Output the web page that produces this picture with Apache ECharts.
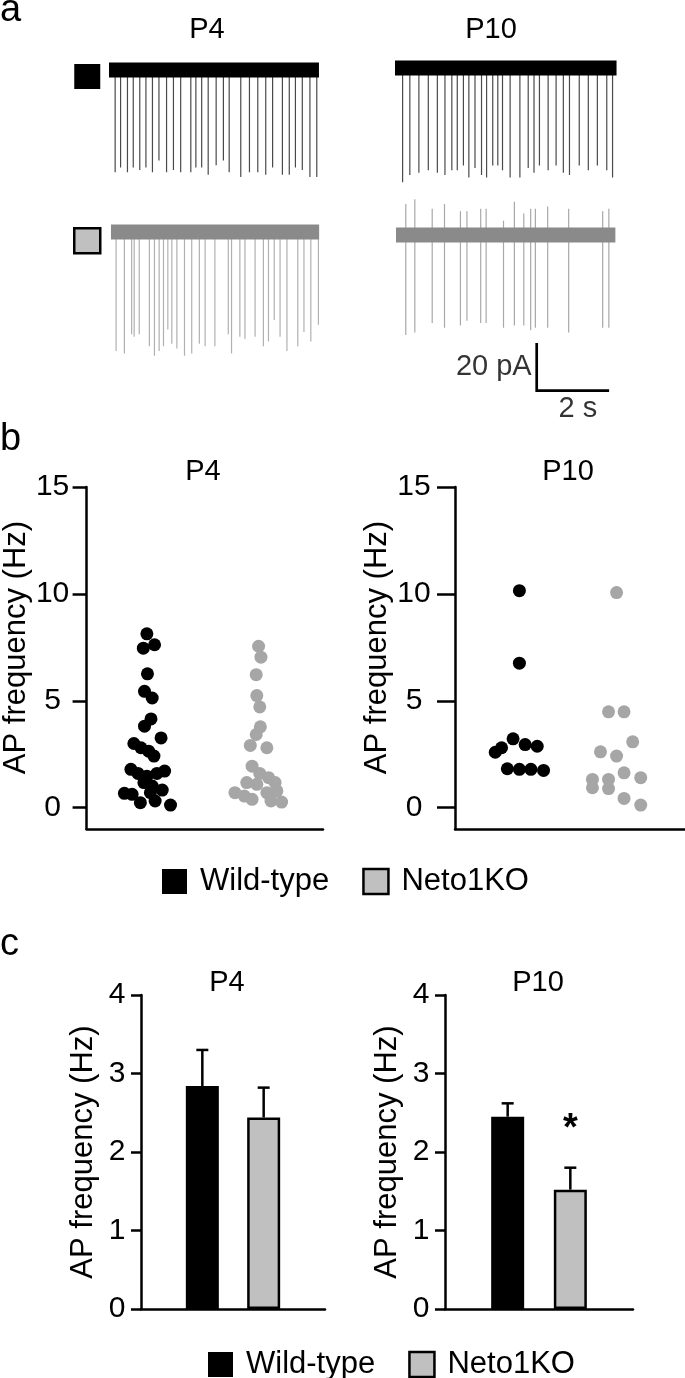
<!DOCTYPE html>
<html><head><meta charset="utf-8">
<script src="https://cdn.jsdelivr.net/npm/echarts@6/dist/echarts.min.js"></script>
<style>html,body{margin:0;padding:0;background:#fff}#chart{width:685px;height:1378px}</style>
</head><body><div id="chart"></div>
<script>
// ---------- DATA ----------
// Panel a: spike times (s) and amplitudes (pA)
const aP4WtTime = [0.17,0.32,0.51,0.67,0.85,1.02,1.20,1.38,1.59,1.78,1.98,2.26,2.40,2.56,2.74,2.96,3.16,3.32,3.64,3.88,4.11,4.33,4.52,4.79,4.98,5.15,5.34,5.55,5.74];
const aP4WtDown = [43,41,43,41,42,41,43,38,43,42,43,43,41,41,44,40,38,43,45,43,43,44,41,44,44,41,42,45,45];
const aP4KoTime = [0.14,0.37,0.57,0.64,0.78,1.06,1.20,1.33,1.45,1.57,1.68,1.82,2.03,2.23,2.44,2.60,2.87,3.24,3.33,3.56,3.70,3.98,4.21,4.35,4.51,4.67,4.86,5.16,5.33,5.52,5.73];
const aP4KoDown = [50,51,43,44,43,48,52,50,48,41,47,49,52,51,47,48,48,43,51,44,45,44,48,46,37,44,50,48,42,46,39];
const aP10WtTime = [0.21,0.41,0.66,0.92,1.17,1.38,1.57,1.72,1.89,2.04,2.21,2.39,2.53,2.70,2.84,2.97,3.18,3.45,3.68,3.84,3.99,4.23,4.45,4.65,4.82,5.09,5.34,5.59,5.85,6.01];
const aP10WtDown = [48,45,44,43,44,45,43,43,41,46,42,45,46,41,41,43,46,46,42,44,41,43,41,44,45,41,43,41,43,46];
const aP10KoTime = [0.27,0.52,1.00,1.34,1.78,1.96,2.34,2.49,2.97,3.27,3.53,3.72,3.85,4.19,4.77,5.71,5.88];
const aP10KoDown = [42,41,37,39,38,36,37,37,39,38,38,40,39,39,41,39,39];
const aP10KoUp   = [13,15,11,13,10,10,11,11,6,14,9,11,11,12,11,10,11];
const aDur = [5.8, 5.75, 6.12, 6.06];           // trace durations (s)
const scaleBar = {pA: 20, s: 2};

// Panel b: individual cells (x = jitter position, y = AP frequency Hz)
const bP4WtX = [1.02,0.96,1.15,1.03,0.98,1.11,1.09,0.98,1.26,0.80,0.92,1.05,1.14,0.75,0.87,1.02,1.32,1.19,0.97,1.11,0.64,0.77,1.28,0.91,1.16,1.42,1.08];
const bP4WtY = [8.13,7.46,7.62,6.26,5.44,5.13,4.15,3.81,3.26,3.00,2.80,2.64,2.41,1.79,1.60,1.47,1.71,1.60,1.17,1.01,0.67,0.62,0.82,0.23,0.31,0.12,0.70];
const bP4KoX = [2.91,2.95,2.87,2.88,2.93,2.94,2.87,2.77,3.05,2.80,2.93,3.08,2.71,2.88,3.19,2.51,2.67,2.80,3.05,3.22,3.12,3.30];
const bP4KoY = [7.55,7.04,6.22,5.24,4.71,3.78,3.42,2.91,2.80,1.94,1.60,1.40,1.17,1.09,1.17,0.70,0.54,0.39,0.70,0.78,0.31,0.26];
const bP10WtX = [1.12,1.12,1.01,0.81,0.70,1.22,1.43,0.91,1.12,1.32,1.54];
const bP10WtY = [10.15,6.76,3.22,2.80,2.59,2.95,2.87,1.82,1.79,1.79,1.74];
const bP10KoX = [2.81,2.67,2.94,3.09,2.53,2.81,2.94,3.23,2.39,2.67,2.39,2.67,2.94,3.23];
const bP10KoY = [10.06,4.48,4.48,3.08,2.61,2.41,1.63,1.40,1.32,1.32,0.93,0.89,0.43,0.12];
const bTicks = [0, 5, 10, 15];

// Panel c: mean +/- SEM
const groups = ['Wild-type', 'Neto1KO'];
const cP4Mean = [2.84, 2.44];
const cP4Sem  = [0.46, 0.38];
const cP10Mean = [2.45, 1.52];
const cP10Sem  = [0.17, 0.28];
const cP10Sig  = ['', '*'];
const cP4Sig   = ['', ''];
const cTicks = [0, 1, 2, 3, 4];

// ---------- STYLE / LAYOUT ----------
const FONT = "'Liberation Sans', Arial, Helvetica, sans-serif";
const BLACK = '#000', LIGHT = '#c0c0c0', DOT_GRAY = '#a6a6a6';
const PX_PER_S = 36.2, PX_PER_PA = 2.38;
const traceLayout = [
  {left:109, base:70,  yMax:15, yMin:-50, band:'#000',    spike:'#4a4a4a'},
  {left:111, base:232, yMax:15, yMin:-55, band:'#8a8a8a', spike:'#b0b0b0'},
  {left:395, base:68,  yMax:15, yMin:-50, band:'#000',    spike:'#4a4a4a'},
  {left:396, base:235, yMax:20, yMin:-50, band:'#8a8a8a', spike:'#a8a8a8'}
];
const traceData = [
  [aP4WtTime, aP4WtDown, null],
  [aP4KoTime, aP4KoDown, null],
  [aP10WtTime, aP10WtDown, null],
  [aP10KoTime, aP10KoDown, aP10KoUp]
];

function spikePath(times, downs, ups) {
  const pts = [[0, 0]];
  times.forEach((t, i) => {
    pts.push([t, 0]);
    if (ups) pts.push([t, ups[i]]);
    pts.push([t, -downs[i]]);
    pts.push([t, 0]);
  });
  return pts;
}
const zip = (xs, ys) => xs.map((x, i) => [x, ys[i]]);

const grid = [], xAxis = [], yAxis = [], series = [];

// Panel a traces
traceLayout.forEach((L, i) => {
  grid.push({left: L.left, top: L.base - L.yMax * PX_PER_PA, width: aDur[i] * PX_PER_S, height: (L.yMax - L.yMin) * PX_PER_PA});
  xAxis.push({type:'value', gridIndex:i, min:0, max:aDur[i], show:false});
  yAxis.push({type:'value', gridIndex:i, min:L.yMin, max:L.yMax, show:false});
  const [t, d, u] = traceData[i];
  series.push({type:'line', xAxisIndex:i, yAxisIndex:i, data: spikePath(t, d, u), symbol:'none', clip:false,
    lineStyle:{color:L.spike, width:1.2}, z:2, silent:true});
  series.push({type:'line', xAxisIndex:i, yAxisIndex:i, data: [[0,0],[aDur[i],0]], symbol:'none', clip:false,
    lineStyle:{color:L.band, width:15, cap:'butt'}, z:3, silent:true});
});

// Scale bar (grid 4)
grid.push({left:536.7, top:343, width: scaleBar.s * PX_PER_S, height: scaleBar.pA * PX_PER_PA});
xAxis.push({type:'value', gridIndex:4, min:0, max:scaleBar.s, show:false});
yAxis.push({type:'value', gridIndex:4, min:0, max:scaleBar.pA, show:false});
series.push({type:'line', xAxisIndex:4, yAxisIndex:4, symbol:'none', clip:false,
  data:[[0, scaleBar.pA],[0,0],[scaleBar.s,0]], lineStyle:{color:BLACK, width:2.7, join:'miter'}, silent:true});
series.push({type:'scatter', xAxisIndex:4, yAxisIndex:4, symbolSize:0, silent:true,
  label:{show:true, color:BLACK, fontSize:29, fontFamily:FONT},
  data:[
    {value:[0, scaleBar.pA/2], label:{formatter: scaleBar.pA + ' pA', position:'left', distance:5}},
    {value:[scaleBar.s/2, 0], label:{formatter: scaleBar.s + ' s', position:'bottom', distance:4, offset:[5,0]}}
  ]});

// Panel b scatter grids (5,6)
const axisLineStyle = {color:BLACK, width:2.5};
function bAxes(gi, tickLen, margin, nameGap) {
  xAxis.push({type:'value', gridIndex:gi, min:0, max:4, axisLine:{show:true, onZero:false, lineStyle:axisLineStyle},
    axisTick:{show:false}, axisLabel:{show:false}, splitLine:{show:false}});
  yAxis.push({type:'value', gridIndex:gi, min:-1, max:15,
    axisLine:{show:true, onZero:false, lineStyle:axisLineStyle},
    axisTick:{show:true, length:tickLen, customValues:bTicks, lineStyle:axisLineStyle},
    axisLabel:{customValues:bTicks, align:'center', margin:margin, fontSize:30, color:BLACK, fontFamily:FONT},
    splitLine:{show:false},
    name:'AP frequency (Hz)', nameLocation:'middle', nameGap:nameGap,
    nameTextStyle:{fontSize:31, color:BLACK, fontFamily:FONT, padding:[0,0,0,21]}});
}
grid.push({left:86, top:487, width:237, height:342});
bAxes(5, 14, 34, 54);
grid.push({left:455, top:487, width:230, height:342});
bAxes(6, 18, 41, 60);
[[5, bP4WtX, bP4WtY, bP4KoX, bP4KoY],[6, bP10WtX, bP10WtY, bP10KoX, bP10KoY]].forEach(([gi, wx, wy, kx, ky]) => {
  series.push({type:'scatter', name:groups[0], xAxisIndex:gi, yAxisIndex:gi, data:zip(wx, wy), symbolSize:13,
    itemStyle:{color:BLACK, opacity:1}, z:3});
  series.push({type:'scatter', name:groups[1], xAxisIndex:gi, yAxisIndex:gi, data:zip(kx, ky), symbolSize:13,
    itemStyle:{color:DOT_GRAY, opacity:1}, z:3});
});

// Panel c bar grids (7,8)
function cAxes(gi) {
  xAxis.push({type:'value', gridIndex:gi, min:0, max:3, axisLine:{show:true, onZero:false, lineStyle:axisLineStyle},
    axisTick:{show:false}, axisLabel:{show:false}, splitLine:{show:false}});
  yAxis.push({type:'value', gridIndex:gi, min:cTicks[0], max:cTicks[cTicks.length-1], interval:1,
    axisLine:{show:true, onZero:false, lineStyle:axisLineStyle},
    axisTick:{show:true, length:10, lineStyle:axisLineStyle},
    axisLabel:{align:'center', margin:24, fontSize:30, color:BLACK, fontFamily:FONT},
    splitLine:{show:false},
    name:'AP frequency (Hz)', nameLocation:'middle', nameGap:42,
    nameTextStyle:{fontSize:31, color:BLACK, fontFamily:FONT}});
}
grid.push({left:141, top:995, width:184, height:314});
cAxes(7);
grid.push({left:445, top:995, width:188, height:314});
cAxes(8);
[[7, cP4Mean, cP4Sem, cP4Sig],[8, cP10Mean, cP10Sem, cP10Sig]].forEach(([gi, mean, sem, sig]) => {
  series.push({type:'bar', name:groups[0], xAxisIndex:gi, yAxisIndex:gi, data:[[1, mean[0]]], barWidth:33, barGap:'-100%',
    itemStyle:{color:BLACK, borderColor:BLACK, borderWidth:2}, z:2});
  series.push({type:'bar', name:groups[1], xAxisIndex:gi, yAxisIndex:gi, data:[[2, mean[1]]], barWidth:33, barGap:'-100%',
    itemStyle:{color:LIGHT, borderColor:BLACK, borderWidth:2.5}, z:2});
  series.push({type:'custom', xAxisIndex:gi, yAxisIndex:gi, z:4, silent:true,
    data: mean.map((m, k) => [k + 1, m, sem[k]]),
    renderItem: (params, api) => {
      const x = api.value(0), m = api.value(1), e = api.value(2);
      const p0 = api.coord([x, m]), p1 = api.coord([x, m + e]);
      const st = {stroke:BLACK, lineWidth:2.5};
      const children = [
        {type:'line', shape:{x1:p0[0], y1:p0[1], x2:p1[0], y2:p1[1]}, style:st},
        {type:'line', shape:{x1:p1[0]-6, y1:p1[1], x2:p1[0]+6, y2:p1[1]}, style:st}
      ];
      const s = sig[params.dataIndex];
      if (s) children.push({type:'text', x:p1[0], y:p1[1] - 38,
        style:{text:s, fill:BLACK, fontSize:38, fontWeight:'bold', fontFamily:FONT, align:'center', verticalAlign:'middle'}});
      return {type:'group', children};
    }});
});

// Titles / panel letters
const txt = (text, x, y, size, align) => ({type:'text', x, y, silent:true,
  style:{text, fill:BLACK, fontSize:size, fontFamily:FONT, align: align || 'center', verticalAlign:'middle'}});
const graphic = [
  txt('a', 0, 11, 38, 'left'), txt('b', 0, 440, 38, 'left'), txt('c', 0, 945, 38, 'left'),
  txt('P4', 207, 30, 29), txt('P10', 491, 30, 29),
  txt('P4', 203, 472, 29), txt('P10', 568, 472, 29),
  txt('P4', 227, 983, 29), txt('P10', 538, 983, 29)
];

const legendItems = [
  {name:groups[0], itemStyle:{color:BLACK, borderColor:BLACK, borderWidth:0}},
  {name:groups[1], itemStyle:{color:LIGHT, borderColor:BLACK, borderWidth:2.5}}
];
const legend = [
  {orient:'vertical', left:68, top:59, itemWidth:26, itemHeight:25, itemGap:138, selectedMode:false, icon:'rect',
    formatter: () => '', data: legendItems},
  {left:157, top:861, itemWidth:25, itemHeight:25, itemGap:33, selectedMode:false, icon:'rect',
    textStyle:{fontSize:31, color:BLACK, fontFamily:FONT, padding:[0,0,0,8]}, data: legendItems},
  {left:203, top:1344, itemWidth:25, itemHeight:25, itemGap:33, selectedMode:false, icon:'rect',
    textStyle:{fontSize:31, color:BLACK, fontFamily:FONT, padding:[0,0,0,8]}, data: legendItems}
];

const chart = echarts.init(document.getElementById('chart'), null, {renderer:'canvas'});
chart.setOption({
  animation:false, backgroundColor:'#fff',
  textStyle:{fontFamily:FONT},
  grid, xAxis, yAxis, series, legend, graphic
});
</script></body></html>
